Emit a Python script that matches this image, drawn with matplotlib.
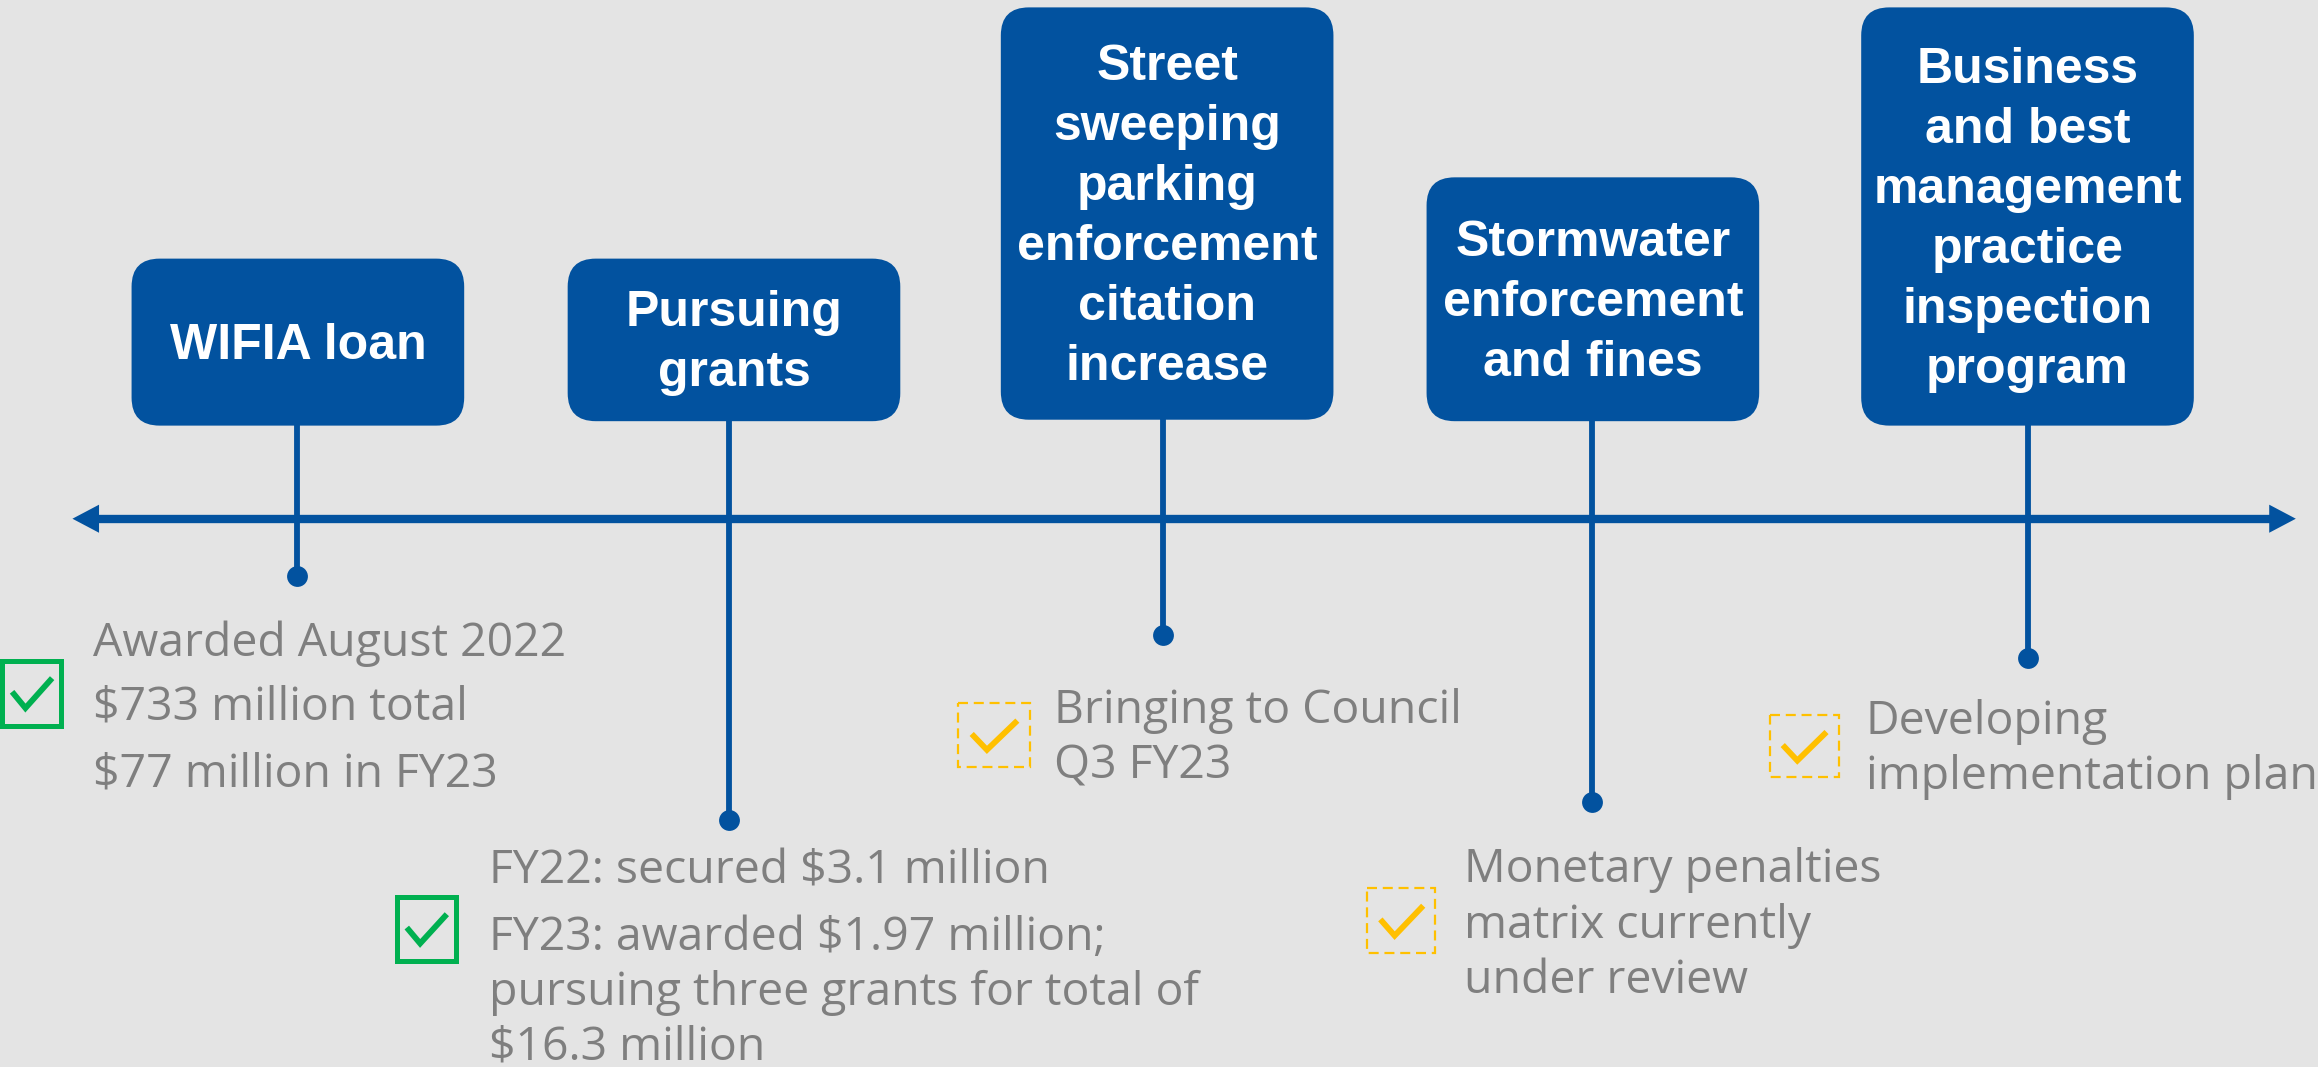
import matplotlib
matplotlib.use("Agg")
import matplotlib.pyplot as plt
from matplotlib.patches import FancyBboxPatch, Rectangle, Polygon

# ---------------- data ----------------
milestones = [
    "WIFIA loan",
    "Pursuing\ngrants",
    "Street\nsweeping\nparking\nenforcement\ncitation\nincrease",
    "Stormwater\nenforcement\nand fines",
    "Business\nand best\nmanagement\npractice\ninspection\nprogram",
]
status = ["complete", "complete", "in progress", "in progress", "in progress"]
details = [
    ["Awarded August 2022", "$733 million total", "$77 million in FY23"],
    ["FY22: secured $3.1 million", "FY23: awarded $1.97 million;",
     "pursuing three grants for total of", "$16.3 million"],
    ["Bringing to Council", "Q3 FY23"],
    ["Monetary penalties", "matrix currently", "under review"],
    ["Developing", "implementation plan"],
]

# ---------------- layout (reference pixel space 1568 x 722) ----------------
W, H = 1568, 722
box_x0 = [89, 384, 677, 965, 1259]
box_w = 225
box_top = [175, 175, 5, 120, 5]
box_bot = [288, 285, 284, 285, 288]
stem_x = [201, 493, 787, 1077, 1372]
dot_y = [390, 555, 430, 543, 445]
text_x = [63, 331, 713, 990, 1262]
text_base = [[444, 487, 532], [598, 643, 680, 717], [489, 527],
             [597, 635, 672], [497, 534]]
check_box = [(0, 447, 43, 44), (267, 607, 43, 43), (648, 476, 49, 43),
             (925, 601, 46, 44), (1197, 484, 47, 42)]
axis_y = 351
axis_x = (49, 1553)
head_len, head_hw = 18, 9.5
title_spacing = 40.6

BG = "#E4E4E4"
BLUE = "#02529F"
GRAY = "#7F7F7F"
GREEN = "#00B050"
YELLOW = "#FFC000"

fig = plt.figure(figsize=(23.18, 10.67), dpi=100, facecolor=BG)
ax = fig.add_axes([0, 0, 1, 1])
ax.set_xlim(0, W)
ax.set_ylim(H, 0)
ax.axis("off")
ax.set_facecolor(BG)

# timeline axis with arrows
ax.plot([axis_x[0] + head_len - 2, axis_x[1] - head_len + 2], [axis_y, axis_y],
        color=BLUE, lw=6.0, solid_capstyle="butt", zorder=2)
ax.add_patch(Polygon([(axis_x[0], axis_y), (axis_x[0] + head_len, axis_y - head_hw),
                      (axis_x[0] + head_len, axis_y + head_hw)],
                     closed=True, color=BLUE, lw=0, zorder=2))
ax.add_patch(Polygon([(axis_x[1], axis_y), (axis_x[1] - head_len, axis_y - head_hw),
                      (axis_x[1] - head_len, axis_y + head_hw)],
                     closed=True, color=BLUE, lw=0, zorder=2))

title_font = dict(family=["Liberation Sans", "DejaVu Sans"], weight="bold",
                  size=36, color="white")
body_font = dict(family=["Open Sans", "DejaVu Sans"], size=33.4, color=GRAY)
cap_half = 0.716 * 36 / 0.72 / (2318 / W) / 2

for i, name in enumerate(milestones):
    # stem + dot
    ax.plot([stem_x[i], stem_x[i]], [box_bot[i] - 5, dot_y[i]], color=BLUE,
            lw=4.2, zorder=2, solid_capstyle="butt")
    ax.plot([stem_x[i]], [dot_y[i]], "o", color=BLUE, ms=15, mew=0, zorder=3)
    # box
    ax.add_patch(FancyBboxPatch((box_x0[i], box_top[i]), box_w,
                                box_bot[i] - box_top[i],
                                boxstyle="round,pad=0,rounding_size=19",
                                fc=BLUE, ec="none", zorder=4))
    lines = name.split("\n")
    cy = (box_top[i] + box_bot[i]) / 2
    n = len(lines)
    for j, ln in enumerate(lines):
        yb = cy + (j - (n - 1) / 2) * title_spacing + cap_half - 1
        ax.text(box_x0[i] + box_w / 2, yb, ln, ha="center", va="baseline",
                zorder=5, **title_font)
    # details
    for ln, yb in zip(details[i], text_base[i]):
        ax.text(text_x[i], yb, ln, ha="left", va="baseline", zorder=5, **body_font)
    # check box
    bx, by, bw, bh = check_box[i]
    if status[i] == "complete":
        ax.add_patch(Rectangle((bx + 1.5, by), bw - 3, bh, fill=False, ec=GREEN,
                               lw=3.6, zorder=5))
        col = GREEN
    else:
        ax.add_patch(Rectangle((bx, by), bw, bh, fill=False, ec=YELLOW,
                               lw=1.6, ls=(0, (4.5, 2.6)), zorder=5))
        col = YELLOW
    rel = [(0.19, 0.48), (0.40, 0.73), (0.82, 0.27)]
    ax.plot([bx + u * bw for u, v in rel], [by + v * bh for u, v in rel],
            color=col, lw=4.2, solid_joinstyle="miter", solid_capstyle="butt",
            zorder=6)

fig.savefig("out.png", dpi=100, facecolor=BG)
